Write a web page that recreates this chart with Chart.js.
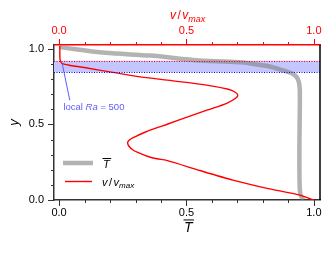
<!DOCTYPE html>
<html><head><meta charset="utf-8">
<script src="https://cdn.jsdelivr.net/npm/chart.js@4/dist/chart.umd.min.js"></script>
<style>html,body{margin:0;padding:0;background:#fff;overflow:hidden}#wrap{width:332px;height:255px}</style>
</head><body><div id="wrap"><canvas id="c" width="332" height="255"></canvas></div>
<script>
// ---- data ----
const tempY = [1.012, 0.974, 0.956, 0.924, 0.911, 0.904, 0.884, 0.858, 0.834, 0.801, 0.748, 0.66, 0.5, 0.3, 0.1, 0.04, 0.0];
const tempT = [0.0, 0.18, 0.357, 0.553, 0.718, 0.749, 0.827, 0.878, 0.918, 0.937, 0.944, 0.945, 0.944, 0.943, 0.944, 0.947, 0.958];
const velY = [1.02, 0.96, 0.927, 0.905, 0.894, 0.872, 0.848, 0.817, 0.79, 0.762, 0.733, 0.715, 0.695, 0.675, 0.64, 0.596, 0.55, 0.503, 0.477, 0.45, 0.427, 0.407, 0.391, 0.377, 0.354, 0.331, 0.308, 0.288, 0.273, 0.262, 0.195, 0.132, 0.079, 0.032, 0.0];
const velV = [0.003, 0.003, 0.004, 0.011, 0.036, 0.115, 0.200, 0.311, 0.442, 0.573, 0.664, 0.690, 0.701, 0.694, 0.658, 0.583, 0.505, 0.427, 0.382, 0.339, 0.308, 0.284, 0.272, 0.269, 0.275, 0.290, 0.318, 0.349, 0.384, 0.422, 0.553, 0.682, 0.812, 0.945, 1.0];
const majorTicks = [0, 0.5, 1.0];
const minorTicks = [0, 0.1, 0.2, 0.3, 0.4, 0.5, 0.6, 0.7, 0.8, 0.9, 1.0];
const bandRange = [0.846, 0.922];
const noteValue = 500;

const FONT = '"Liberation Sans", Arial, Helvetica, sans-serif';
const RED = '#ff0000';
const AX = '#333333';
const NOTE = '#5c5cff';

function drawParts(ctx, parts, x, y, color) {
  let cx = x;
  ctx.fillStyle = color;
  ctx.textBaseline = 'alphabetic';
  ctx.textAlign = 'left';
  for (const p of parts) {
    ctx.font = p.font;
    ctx.fillText(p.t, cx, y + (p.dy || 0));
    cx += ctx.measureText(p.t).width + (p.gap || 0);
  }
  return cx;
}
function drawTbar(ctx, x, y, size, color) {
  ctx.font = 'italic ' + size + 'px ' + FONT;
  ctx.fillStyle = color;
  ctx.textAlign = 'left';
  ctx.textBaseline = 'alphabetic';
  ctx.fillText('T', x, y);
  const w = ctx.measureText('T').width;
  ctx.strokeStyle = color;
  ctx.lineWidth = 1;
  ctx.beginPath();
  ctx.moveTo(x - 0.5, y - size * 0.86);
  ctx.lineTo(x + w + 1.5, y - size * 0.86);
  ctx.stroke();
}
function vOverVmax(size) {
  const f = 'italic ' + size + 'px ' + FONT;
  const fs = 'italic ' + Math.round(size * 0.75) + 'px ' + FONT;
  return [
    { t: 'v', font: f, gap: 1.5 },
    { t: '/', font: size + 'px ' + FONT, gap: 1.5 },
    { t: 'v', font: f, gap: 0 },
    { t: 'max', font: fs, dy: size * 0.22 }
  ];
}

const decor = {
  id: 'decor',
  beforeDatasetsDraw(chart) {
    const { ctx, chartArea: a, scales: { y } } = chart;
    const y1 = y.getPixelForValue(bandRange[1]);
    const y0 = y.getPixelForValue(bandRange[0]);
    ctx.save();
    ctx.fillStyle = '#c6c6ff';
    ctx.fillRect(a.left, y1, a.right - a.left, y0 - y1);
    ctx.restore();
  },
  afterDatasetsDraw(chart) {
    const { ctx, chartArea: a, scales: { y } } = chart;
    ctx.save();
    ctx.lineWidth = 1;
    ctx.setLineDash([1, 1.5]);
    ctx.strokeStyle = RED;
    let py = Math.round(y.getPixelForValue(bandRange[1])) + 0.5;
    ctx.beginPath(); ctx.moveTo(a.left, py); ctx.lineTo(a.right, py); ctx.stroke();
    ctx.strokeStyle = '#0000ff';
    py = Math.round(y.getPixelForValue(bandRange[0])) + 0.5;
    ctx.beginPath(); ctx.moveTo(a.left, py); ctx.lineTo(a.right, py); ctx.stroke();
    ctx.restore();
  },
  afterDraw(chart) {
    const { ctx, chartArea: a, scales: { x, x2, y } } = chart;
    ctx.save();
    // right frame line
    ctx.strokeStyle = '#000';
    ctx.lineWidth = 1.5;
    ctx.beginPath(); ctx.moveTo(a.right, a.top); ctx.lineTo(a.right, a.bottom); ctx.stroke();
    // tick marks
    ctx.lineWidth = 1;
    for (const v of minorTicks) {
      const major = majorTicks.some(m => Math.abs(m - v) < 1e-9);
      let px = Math.round(x.getPixelForValue(v)) + 0.5;
      ctx.strokeStyle = AX;
      ctx.beginPath(); ctx.moveTo(px, a.bottom); ctx.lineTo(px, a.bottom + (major ? 6 : 3)); ctx.stroke();
      px = Math.round(x2.getPixelForValue(v)) + 0.5;
      ctx.strokeStyle = RED;
      ctx.beginPath(); ctx.moveTo(px, a.top); ctx.lineTo(px, a.top - (major ? 6 : 3)); ctx.stroke();
      const py = Math.round(y.getPixelForValue(v)) + 0.5;
      ctx.strokeStyle = AX;
      ctx.beginPath(); ctx.moveTo(a.left, py); ctx.lineTo(a.left - (major ? 6 : 3), py); ctx.stroke();
    }
    // annotation
    ctx.strokeStyle = NOTE;
    ctx.lineWidth = 1;
    ctx.beginPath();
    ctx.moveTo(x.getPixelForValue(0.012), y.getPixelForValue(0.905));
    ctx.lineTo(x.getPixelForValue(0.042), y.getPixelForValue(0.66));
    ctx.stroke();
    const nf = '9.5px ' + FONT;
    drawParts(ctx, [
      { t: 'local ', font: nf },
      { t: 'Ra', font: 'italic ' + nf },
      { t: ' = ' + noteValue, font: nf }
    ], x.getPixelForValue(0.017), y.getPixelForValue(0.598), NOTE);
    // legend
    const ds = chart.data.datasets;
    const lx0 = 63, lx1 = 93, tx = 102;
    const rows = [163, 181.5];
    ds.forEach((d, i) => {
      ctx.strokeStyle = d.borderColor;
      ctx.lineWidth = d.borderWidth;
      ctx.setLineDash([]);
      ctx.beginPath();
      ctx.moveTo(i === 0 ? lx0 : lx0 + 2, rows[i]);
      ctx.lineTo(i === 0 ? lx1 : lx1 - 1, rows[i]);
      ctx.stroke();
    });
    drawTbar(ctx, tx + 1, rows[0] + 5, 11, '#000');
    drawParts(ctx, vOverVmax(11), tx, rows[1] + 4, '#000');
    // bottom axis title
    drawTbar(ctx, (a.left + a.right) / 2 - 3, 232, 14, '#000');
    // top axis title
    drawParts(ctx, vOverVmax(12), 170, 19, RED);
    ctx.restore();
  }
};

new Chart(document.getElementById('c'), {
  type: 'scatter',
  data: {
    datasets: [
      { label: 'T', data: tempY.map((v, i) => ({ x: tempT[i], y: v })), xAxisID: 'x', yAxisID: 'y',
        showLine: true, borderColor: 'rgba(128,128,128,0.6)', borderWidth: 4.5, pointRadius: 0, tension: 0.3, order: 2 },
      { label: 'v/vmax', data: velY.map((v, i) => ({ x: velV[i], y: v })), xAxisID: 'x2', yAxisID: 'y',
        showLine: true, borderColor: RED, borderWidth: 1.4, pointRadius: 0, tension: 0.25, order: 1 }
    ]
  },
  options: {
    responsive: false, animation: false, devicePixelRatio: 1,
    layout: { padding: { left: 0, right: 12, top: 0, bottom: 0 } },
    plugins: { legend: { display: false }, tooltip: { enabled: false } },
    scales: {
      x: {
        type: 'linear', position: 'bottom', min: -0.02, max: 1.024,
        afterBuildTicks: s => { s.ticks = majorTicks.map(v => ({ value: v })); },
        afterFit: s => { s.height = 55; },
        grid: { display: false, drawTicks: false },
        border: { display: true, color: AX, width: 1.5 },
        ticks: { padding: 6, color: '#000', font: { family: FONT, size: 11 }, callback: v => Number(v).toFixed(1), maxRotation: 0 }
      },
      x2: {
        type: 'linear', position: 'top', min: -0.02, max: 1.024,
        afterBuildTicks: s => { s.ticks = majorTicks.map(v => ({ value: v })); },
        afterFit: s => { s.height = 45; },
        grid: { display: false, drawTicks: false },
        border: { display: true, color: RED, width: 1.5 },
        ticks: { padding: 7, color: RED, font: { family: FONT, size: 11 }, callback: v => Number(v).toFixed(1), maxRotation: 0 }
      },
      y: {
        type: 'linear', position: 'left', min: 0, max: 1.026,
        afterBuildTicks: s => { s.ticks = majorTicks.map(v => ({ value: v })); },
        afterFit: s => { s.width = 54; },
        grid: { display: false, drawTicks: false },
        border: { display: true, color: AX, width: 1.5 },
        ticks: { padding: 10, color: '#000', font: { family: FONT, size: 11 }, callback: v => Number(v).toFixed(1) },
        title: { display: true, text: 'y', color: '#000', font: { family: FONT, size: 13, style: 'italic' }, padding: { top: 7, bottom: 0 } }
      }
    }
  },
  plugins: [decor]
});
</script></body></html>
